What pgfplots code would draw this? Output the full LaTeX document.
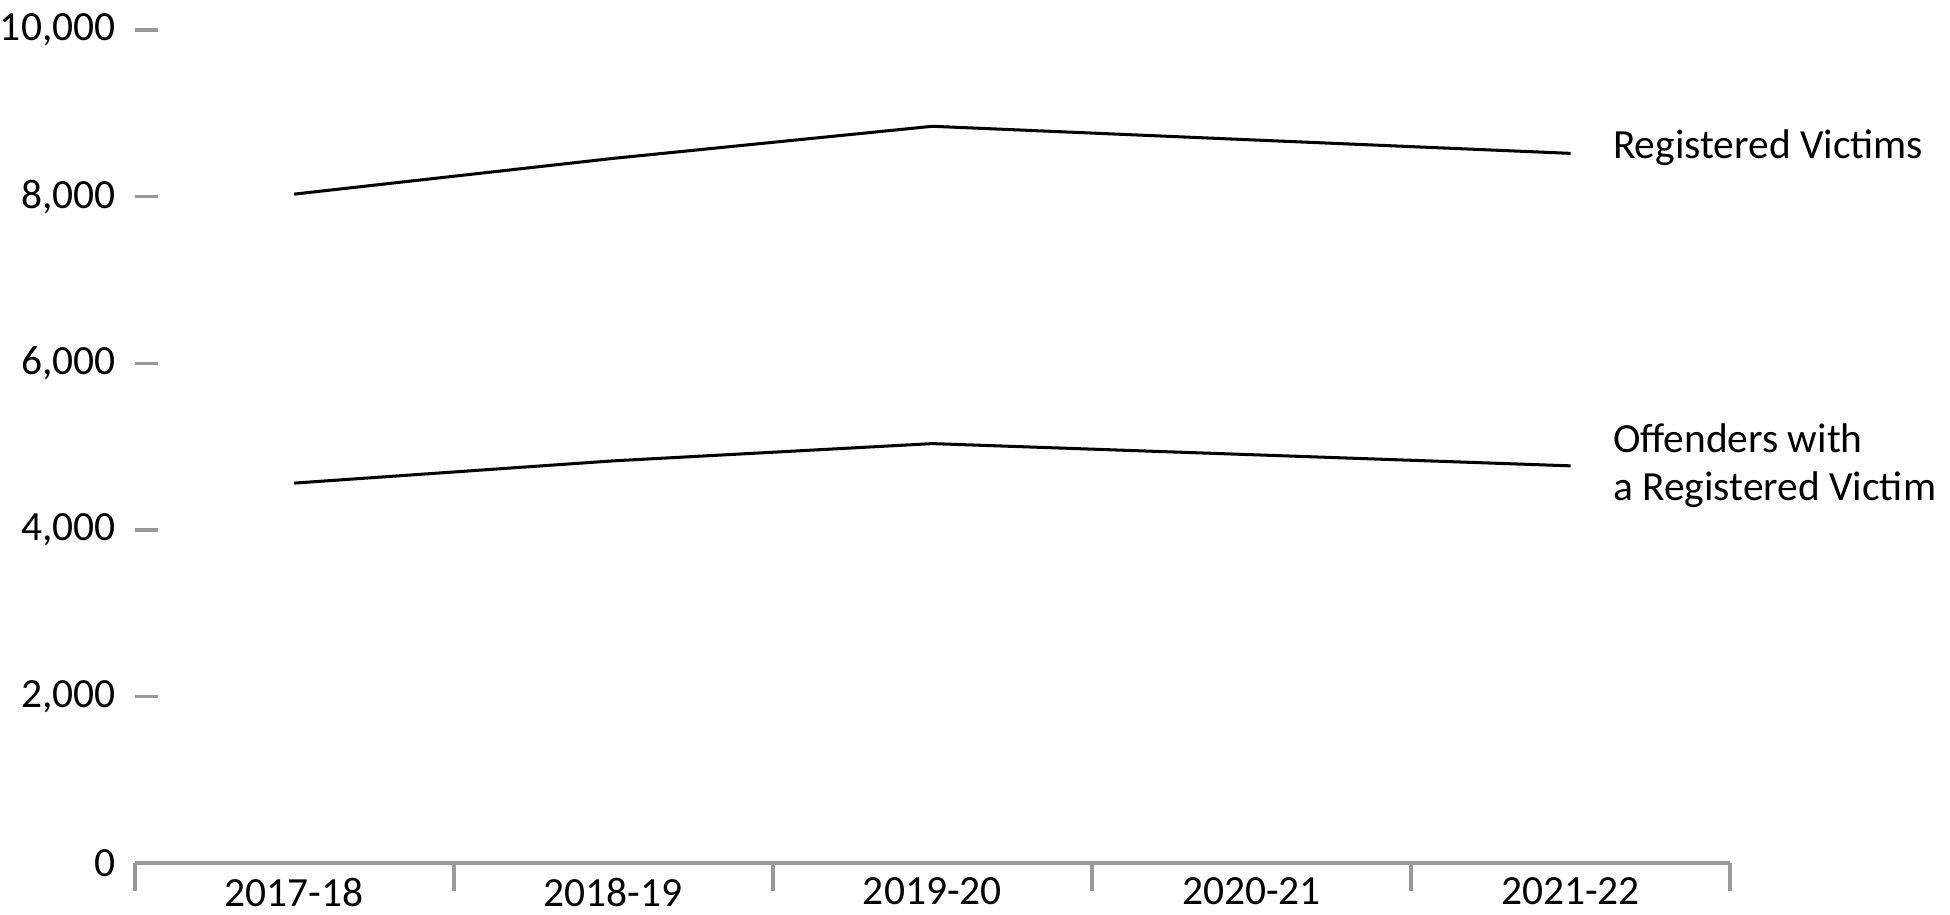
\documentclass[border=0pt]{standalone}
\usepackage{pgfplots}
\pgfplotsset{compat=1.18}
\usepackage{fontspec}
\setmainfont{Carlito}
\definecolor{axgray}{HTML}{999999}
\begin{document}
\fontsize{20.5}{24}\selectfont
\begin{tikzpicture}
\begin{axis}[
  scale only axis,
  width=788.6pt, height=412pt,
  xmin=-0.5, xmax=4.5, ymin=0, ymax=10000,
  axis x line*=bottom, axis y line*=left,
  y axis line style={draw=none},
  x axis line style={axgray, line width=2pt},
  xtick={0,1,2,3,4},
  xticklabels={2017-18,2018-19,2019-20,2020-21,2021-22},
  x tick style={draw=none},
  ytick={0,2000,4000,6000,8000,10000},
  scaled y ticks=false,
  tick align=inside,
  y tick style={axgray, line width=1.7pt},
  major tick length=11.5pt,
  /pgf/number format/1000 sep={,},
  /pgf/number format/assume math mode=true,
  yticklabel style={xshift=-9.3pt, inner xsep=0pt},
  xticklabel style={yshift=-7pt, inner ysep=0pt, text depth=4pt},
  clip=false,
]
\addplot[black, line width=1.5pt] coordinates {(0,8030) (1,8459) (2,8844) (3,8681) (4,8519)};
\addplot[black, line width=1.5pt] coordinates {(0,4563) (1,4830) (2,5037) (3,4904) (4,4770)};
\pgfplotsinvokeforeach{-0.5,0.5,1.5,2.5,3.5,4.5}{
  \draw[axgray, line width=2pt] (axis cs:#1,0) -- ++(0pt,-13.5pt);
}
\node[anchor=west, align=left] at ([xshift=14pt, yshift=3pt]axis cs:4,8519) {Registered Victims};
\node[anchor=west, align=left] at ([xshift=14pt]axis cs:4,4770) {Offenders with\\a Registered Victim};
\end{axis}
\end{tikzpicture}
\end{document}
